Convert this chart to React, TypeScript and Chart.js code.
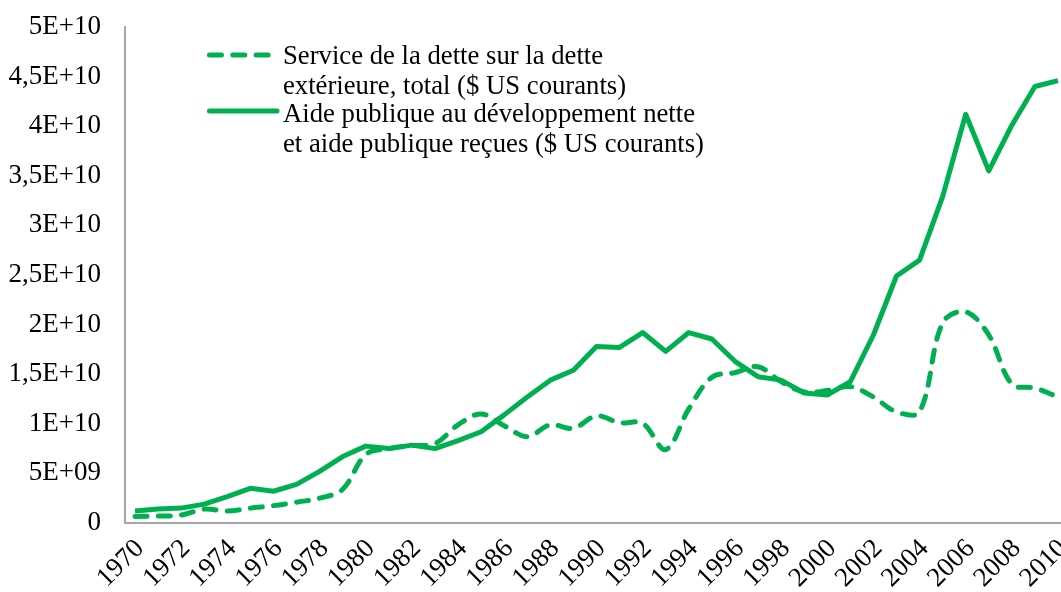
import React, { useEffect, useRef } from "react";
import { Chart, registerables } from "chart.js";

Chart.register(...registerables);

const years = [
  1970, 1971, 1972, 1973, 1974, 1975, 1976, 1977, 1978, 1979,
  1980, 1981, 1982, 1983, 1984, 1985, 1986, 1987, 1988, 1989,
  1990, 1991, 1992, 1993, 1994, 1995, 1996, 1997, 1998, 1999,
  2000, 2001, 2002, 2003, 2004, 2005, 2006, 2007, 2008, 2009, 2010,
];

const serviceDette = [
  0.65e9, 0.7e9, 0.8e9, 1.4e9, 1.2e9, 1.5e9, 1.75e9, 2.1e9, 2.5e9, 3.4e9,
  6.9e9, 7.5e9, 7.8e9, 8.0e9, 9.9e9, 11.0e9, 9.8e9, 8.7e9, 9.9e9, 9.55e9,
  10.8e9, 10.1e9, 10.05e9, 7.4e9, 11.5e9, 14.7e9, 15.15e9, 15.75e9, 14.25e9, 13.2e9,
  13.35e9, 13.75e9, 12.7e9, 11.2e9, 11.2e9, 20.2e9, 21.3e9, 18.95e9, 14.0e9, 13.6e9, 12.7e9,
];

const aidePublique = [
  1.2e9, 1.4e9, 1.5e9, 1.9e9, 2.65e9, 3.5e9, 3.2e9, 3.9e9, 5.2e9, 6.7e9,
  7.75e9, 7.5e9, 7.85e9, 7.5e9, 8.3e9, 9.2e9, 10.9e9, 12.7e9, 14.4e9, 15.4e9,
  17.8e9, 17.7e9, 19.2e9, 17.3e9, 19.2e9, 18.55e9, 16.3e9, 14.75e9, 14.4e9, 13.1e9,
  12.9e9, 14.25e9, 18.95e9, 24.9e9, 26.5e9, 32.9e9, 41.2e9, 35.5e9, 40.1e9, 44.0e9, 44.6e9,
];

const yTickValues = [0, 5e9, 1e10, 1.5e10, 2e10, 2.5e10, 3e10, 3.5e10, 4e10, 4.5e10, 5e10];
const yTickLabels = [
  "0", "5E+09", "1E+10", "1,5E+10", "2E+10", "2,5E+10",
  "3E+10", "3,5E+10", "4E+10", "4,5E+10", "5E+10",
];
const xTickValues = [
  1970, 1972, 1974, 1976, 1978, 1980, 1982, 1984, 1986, 1988, 1990,
  1992, 1994, 1996, 1998, 2000, 2002, 2004, 2006, 2008, 2010,
];

const serviceLabel = ["Service de la dette sur la dette", "extérieure, total ($ US courants)"];
const aideLabel = ["Aide publique au développement nette", "et aide publique reçues ($ US courants)"];

const GREEN = "#00B050";
const FONT = "'Liberation Serif', 'Times New Roman', serif";
const DASH = [12, 11.3];

const legendPlugin = {
  id: "customLegend",
  afterDatasetsDraw(chart: any) {
    const ctx = chart.ctx as CanvasRenderingContext2D;
    const items = [
      { lines: serviceLabel, dash: DASH, sampleY: 55, baselines: [64, 93.5] },
      { lines: aideLabel, dash: [] as number[], sampleY: 111, baselines: [122, 152] },
    ];
    ctx.save();
    items.forEach((it) => {
      ctx.strokeStyle = GREEN;
      ctx.lineWidth = 5;
      ctx.lineCap = "round";
      ctx.setLineDash(it.dash);
      ctx.beginPath();
      ctx.moveTo(209.5, it.sampleY);
      ctx.lineTo(277, it.sampleY);
      ctx.stroke();
      ctx.setLineDash([]);
      ctx.fillStyle = "#000";
      ctx.font = `26.7px ${FONT}`;
      ctx.textAlign = "left";
      ctx.textBaseline = "alphabetic";
      it.lines.forEach((t, k) => ctx.fillText(t, 283, it.baselines[k]));
    });
    ctx.restore();
  },
};

export default function App() {
  const canvasRef = useRef<HTMLCanvasElement | null>(null);

  useEffect(() => {
    document.body.style.margin = "0";
    const canvas = canvasRef.current;
    if (!canvas) return;
    const chart = new Chart(canvas, {
      type: "line",
      data: {
        datasets: [
          {
            label: serviceLabel.join(" "),
            data: years.map((y, i) => ({ x: y, y: serviceDette[i] })),
            borderColor: GREEN,
            backgroundColor: GREEN,
            borderWidth: 5,
            borderDash: DASH,
            borderCapStyle: "round",
            borderJoinStyle: "round",
            tension: 0.35,
            pointRadius: 0,
            fill: false,
          },
          {
            label: aideLabel.join(" "),
            data: years.map((y, i) => ({ x: y, y: aidePublique[i] })),
            borderColor: GREEN,
            backgroundColor: GREEN,
            borderWidth: 5,
            borderJoinStyle: "round",
            tension: 0,
            pointRadius: 0,
            fill: false,
          },
        ],
      },
      options: {
        responsive: false,
        animation: false,
        layout: { padding: { top: 27, right: 0, bottom: 0, left: 0 } },
        plugins: {
          legend: { display: false },
          tooltip: { enabled: false },
        },
        scales: {
          x: {
            type: "linear",
            min: 1969.567,
            max: 2010.13,
            grid: { display: false, drawTicks: false },
            border: { display: true, color: "#A6A6A6", width: 2 },
            afterBuildTicks: (scale: any) => {
              scale.ticks = xTickValues.map((v) => ({ value: v }));
            },
            afterFit: (scale: any) => {
              scale.height = 69;
              scale.paddingLeft = 0;
              scale.paddingRight = 0;
            },
            ticks: {
              autoSkip: false,
              maxRotation: 45,
              minRotation: 45,
              padding: 10,
              labelOffset: 5,
              color: "#000",
              font: { family: FONT, size: 27 },
              callback: (v: any) => String(v),
            },
          },
          y: {
            type: "linear",
            min: 0,
            max: 5e10,
            grid: { display: false, drawTicks: false },
            border: { display: true, color: "#A6A6A6", width: 2 },
            afterBuildTicks: (scale: any) => {
              scale.ticks = yTickValues.map((v) => ({ value: v }));
            },
            afterFit: (scale: any) => {
              scale.width = 125;
              scale.paddingTop = 0;
              scale.paddingBottom = 0;
            },
            ticks: {
              padding: 24,
              color: "#000",
              font: { family: FONT, size: 27 },
              callback: (_v: any, i: number) => yTickLabels[i],
            },
          },
        },
      },
      plugins: [legendPlugin],
    });
    return () => chart.destroy();
  }, []);

  return (
    <div style={{ position: "absolute", left: 0, top: 0, width: 1061, height: 592 }}>
      <canvas ref={canvasRef} width={1061} height={592} />
    </div>
  );
}
